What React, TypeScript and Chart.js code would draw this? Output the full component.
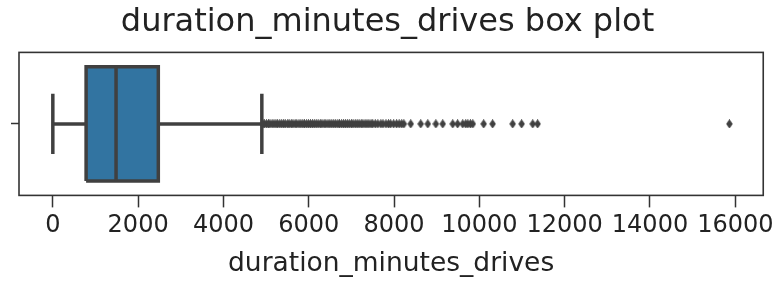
import React, { useEffect, useRef } from 'react';
import { Chart, registerables } from 'chart.js';

Chart.register(...registerables);

// ---- data ----
const CATEGORIES = [''];
const BOX_Q1 = 780;
const BOX_MEDIAN = 1482;
const BOX_Q3 = 2473;
const WHISKER_LOW = 0;
const WHISKER_HIGH = 4900;
const OUTLIERS = [
  4925, 4960, 5010, 5055, 5090, 5140, 5185, 5230, 5270, 5320, 5365, 5410, 5450, 5505,
  5540, 5590, 5630, 5680, 5720, 5770, 5815, 5860, 5900, 5950, 5995, 6040, 6085, 6130,
  6175, 6220, 6270, 6310, 6360, 6400, 6450, 6495, 6540, 6585, 6630, 6680, 6720, 6770,
  6815, 6860, 6905, 6950, 7000, 7040, 7090, 7135, 7180, 7230, 7270, 7320, 7365, 7410,
  7460, 7500, 7560, 7620, 7690, 7740, 7810, 7870, 7920, 7990, 8060, 8120, 8180, 8230,
  8390, 8625, 8790, 8980, 9140, 9375, 9490, 9610, 9680, 9730, 9790, 9845, 10100, 10310,
  10780, 10990, 11250, 11365, 15862,
];
const X_TICKS = [0, 2000, 4000, 6000, 8000, 10000, 12000, 14000, 16000];
const X_MIN = -793;
const X_MAX = 16655;
const TITLE = 'duration_minutes_drives box plot';
const X_LABEL = 'duration_minutes_drives';

const BOX_HALF = 0.4;
const CAP_HALF = 0.21;

const BOX_FILL = '#3274a1';
const LINE = '#404040';
const FONT = 'DejaVu Sans';

function thinDiamond(): HTMLCanvasElement {
  const c = document.createElement('canvas');
  c.width = 7;
  c.height = 9;
  const g = c.getContext('2d')!;
  g.fillStyle = LINE;
  g.strokeStyle = LINE;
  g.lineWidth = 1;
  g.beginPath();
  g.moveTo(3.5, 0.5);
  g.lineTo(6.3, 4.5);
  g.lineTo(3.5, 8.5);
  g.lineTo(0.7, 4.5);
  g.closePath();
  g.fill();
  g.stroke();
  return c;
}

const framePlugin = {
  id: 'frame',
  afterDatasetsDraw(chart: any) {
    const { ctx, chartArea } = chart;
    ctx.save();
    ctx.strokeStyle = '#333';
    ctx.lineWidth = 1.6;
    ctx.strokeRect(chartArea.left, chartArea.top, chartArea.right - chartArea.left, chartArea.bottom - chartArea.top);
    ctx.restore();
  },
};

export default function App() {
  const ref = useRef<HTMLCanvasElement | null>(null);

  useEffect(() => {
    document.body.style.margin = '0';
    const marker = thinDiamond();
    const lineDs = (data: { x: number; y: number }[], extra: any = {}) => ({
      type: 'line' as const,
      data,
      borderColor: LINE,
      borderWidth: 3.5,
      pointRadius: 0,
      fill: false,
      tension: 0,
      borderCapStyle: 'butt' as const,
      borderJoinStyle: 'miter' as const,
      ...extra,
    });
    const chart = new Chart(ref.current!, {
      type: 'line',
      data: {
        datasets: [
          // median (first = drawn on top)
          lineDs([{ x: BOX_MEDIAN, y: -BOX_HALF }, { x: BOX_MEDIAN, y: BOX_HALF }]),
          // box
          lineDs(
            [
              { x: BOX_Q1, y: -BOX_HALF },
              { x: BOX_Q3, y: -BOX_HALF },
              { x: BOX_Q3, y: BOX_HALF },
              { x: BOX_Q1, y: BOX_HALF },
              { x: BOX_Q1, y: -BOX_HALF },
            ],
            { fill: 'shape', backgroundColor: BOX_FILL }
          ),
          // whiskers
          lineDs([{ x: WHISKER_LOW, y: 0 }, { x: BOX_Q1, y: 0 }]),
          lineDs([{ x: BOX_Q3, y: 0 }, { x: WHISKER_HIGH, y: 0 }]),
          // caps
          lineDs([{ x: WHISKER_LOW, y: -CAP_HALF }, { x: WHISKER_LOW, y: CAP_HALF }]),
          lineDs([{ x: WHISKER_HIGH, y: -CAP_HALF }, { x: WHISKER_HIGH, y: CAP_HALF }]),
          // outliers
          {
            type: 'scatter',
            data: OUTLIERS.map((v) => ({ x: v, y: 0 })),
            pointStyle: marker,
            pointRadius: 3,
            backgroundColor: LINE,
            borderColor: LINE,
          } as any,
        ],
      },
      options: {
        responsive: false,
        animation: false,
        maintainAspectRatio: false,
        layout: { padding: { left: 11, right: 14, top: 0, bottom: 0 } },
        plugins: {
          legend: { display: false },
          tooltip: { enabled: false },
          title: {
            display: true,
            text: TITLE,
            color: '#222',
            font: { family: FONT, size: 32, weight: 'normal' },
            padding: { top: 3, bottom: 11 },
          },
        },
        scales: {
          x: {
            type: 'linear',
            position: 'bottom',
            min: X_MIN,
            max: X_MAX,
            afterBuildTicks: (s: any) => {
              s.ticks = X_TICKS.map((v) => ({ value: v }));
            },
            ticks: {
              color: '#222',
              font: { family: FONT, size: 24 },
              padding: 4,
              maxRotation: 0,
              autoSkip: false,
              callback: (v: any) => String(v),
            },
            grid: { drawOnChartArea: false, drawTicks: true, tickLength: 12, color: '#333', tickWidth: 1.5 },
            border: { display: false },
            title: {
              display: true,
              text: X_LABEL,
              color: '#222',
              font: { family: FONT, size: 26.5 },
              padding: { top: 4, bottom: 1 },
            },
          },
          y: {
            type: 'linear',
            position: 'left',
            min: -0.5,
            max: 0.5,
            afterBuildTicks: (s: any) => {
              s.ticks = CATEGORIES.map((_, i) => ({ value: i }));
            },
            ticks: {
              font: { family: FONT, size: 24 },
              padding: 0,
              callback: (_v: any, i: number) => CATEGORIES[i],
            },
            grid: { drawOnChartArea: false, drawTicks: true, tickLength: 8, color: '#333', tickWidth: 1.5 },
            border: { display: false },
          },
        },
      },
      plugins: [framePlugin],
    } as any);
    return () => chart.destroy();
  }, []);

  return (
    <div style={{ position: 'absolute', left: 0, top: 0, width: 778, height: 281, background: '#fff' }}>
      <canvas ref={ref} width={778} height={281} />
    </div>
  );
}
